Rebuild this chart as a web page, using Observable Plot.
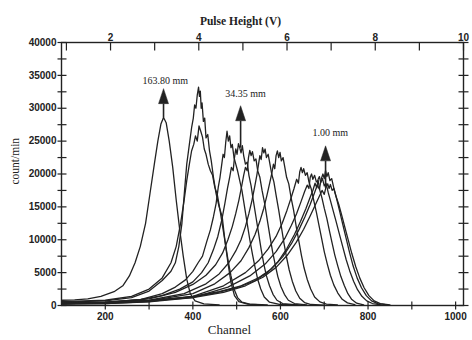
<!DOCTYPE html>
<html><head><meta charset="utf-8">
<script src="https://cdn.jsdelivr.net/npm/d3@7"></script>
<script src="https://cdn.jsdelivr.net/npm/@observablehq/plot@0.6"></script>
<style>
html,body{margin:0;padding:0;background:#fff;}
</style>
</head><body><div id="chart"></div>
<script>
// ---- Data (channel, count/min) ----
const seriesNames = ["163.80 mm","s2","s3","s4","34.35 mm","s6","s7","s8","s9","s10","s11","1.00 mm","s13"];

const s1 = [[102,800],[130,850],[160,1000],[190,1400],[220,2100],[240,3000],[255,4500],[268,6500],[280,9000],[292,12500],[302,17000],[312,21500],[320,25000],[327,27600],[333,28600],[339,27800],[346,25000],[354,21000],[362,16000],[370,11500],[378,7500],[386,4000],[394,1800],[405,700],[425,250],[460,100]];
const s2 = [[102,500],[200,700],[260,1200],[300,2200],[330,3800],[350,5200],[360,6500],[368,9000],[375,12500],[381,17500],[386,21500],[392,24500],[397,27000],[401,28500],[404,30500],[407,30000],[410,32000],[413,33200],[415,31800],[417,32600],[419,30000],[421,30800],[424,28000],[427,28500],[430,25500],[434,26000],[438,23500],[442,22000],[447,19500],[453,17000],[460,15000],[467,13500],[473,10000],[480,6500],[487,3500],[495,1500],[505,600],[525,200],[560,80]];
const s3 = [[102,600],[200,800],[260,1400],[300,2500],[330,4200],[350,6500],[362,9000],[372,12500],[380,16000],[386,19000],[392,21500],[397,23500],[402,24500],[406,25800],[410,25000],[414,27300],[418,26500],[422,25600],[426,23800],[430,23000],[435,21500],[440,20500],[445,19800],[450,18000],[456,16800],[462,14500],[468,12000],[474,9500],[480,7000],[487,4500],[494,2500],[502,1200],[512,500],[530,200],[570,80]];
const s4 = [[102,400],[200,500],[280,900],[330,1800],[360,2800],[383,3900],[400,5200],[412,6500],[422,7500],[432,9800],[440,11500],[447,13500],[453,15500],[458,18000],[462,19500],[466,21500],[469,23000],[472,22500],[475,24800],[478,26500],[481,25000],[484,25800],[487,24000],[490,24500],[494,22500],[498,21500],[502,20500],[507,19000],[512,17500],[518,15000],[524,12500],[530,10000],[536,7800],[542,5800],[548,4000],[555,2500],[563,1300],[575,500],[600,150],[650,50]];
const s5 = [[102,350],[200,500],[280,900],[330,1500],[370,2500],[400,3600],[420,5000],[435,6500],[447,8500],[457,10500],[466,13000],[473,15500],[479,17800],[484,19500],[488,21000],[492,20500],[495,22500],[498,23800],[501,23000],[504,24600],[507,24000],[510,23200],[513,24300],[516,22800],[520,21500],[524,21800],[528,19800],[533,18200],[538,16000],[544,13500],[550,11000],[556,8500],[562,6300],[568,4500],[575,3000],[583,1700],[592,800],[605,300],[640,100]];
const s6 = [[102,300],[200,450],[300,1000],[360,2000],[400,3200],[430,4600],[452,6200],[468,8000],[480,10000],[490,12000],[498,14000],[505,16000],[511,18000],[516,19800],[520,21000],[524,20500],[527,22500],[530,23600],[533,22800],[536,23400],[540,22000],[544,22300],[548,20500],[553,19500],[558,17500],[564,15500],[570,13000],[576,10500],[582,8200],[588,6200],[594,4400],[601,2900],[609,1700],[618,800],[632,300],[660,100]];
const s7 = [[102,300],[200,400],[300,800],[380,1800],[430,3300],[460,4800],[482,6500],[498,8300],[510,10000],[520,12000],[528,14000],[535,16000],[541,18000],[546,19800],[550,21500],[553,22800],[556,22200],[559,24000],[562,23200],[565,23800],[568,22500],[572,23000],[576,21500],[580,20000],[585,18800],[590,16800],[596,14500],[602,12000],[608,9500],[614,7300],[620,5400],[627,3700],[635,2200],[644,1100],[655,450],[670,150],[700,60]];
const s8 = [[102,250],[200,350],[300,700],[400,1800],[450,3300],[485,5000],[510,6800],[528,8800],[542,10800],[553,12800],[562,14800],[569,16700],[575,18500],[580,20000],[584,21500],[587,20800],[590,22800],[593,23500],[596,22500],[599,23300],[602,22000],[606,22500],[610,21000],[614,19500],[619,18500],[624,16500],[630,14500],[636,12000],[642,9800],[648,7600],[654,5700],[661,4000],[669,2500],[678,1300],[690,550],[705,200],[730,80]];
const s9 = [[102,250],[200,300],[300,600],[400,1400],[470,3000],[520,5000],[550,6800],[572,8600],[590,10500],[604,12500],[615,14500],[624,16300],[631,17800],[637,19200],[641,18600],[644,20300],[647,21000],[650,20200],[653,20800],[657,19800],[661,20200],[665,18800],[670,17800],[676,16000],[682,14200],[688,12200],[694,10200],[700,8200],[707,6300],[714,4600],[722,3100],[731,1900],[741,950],[753,400],[770,120]];
const s10 = [[102,250],[200,300],[300,550],[400,1200],[480,2800],[530,4500],[565,6300],[590,8200],[610,10200],[625,12200],[637,14000],[647,15800],[655,17300],[661,18300],[665,17800],[668,19500],[671,20000],[674,19200],[678,19800],[682,18800],[686,19000],[690,17500],[695,16300],[700,14800],[706,13200],[712,11300],[718,9500],[724,7700],[731,6000],[738,4400],[746,3000],[754,1800],[763,900],[774,350],[790,100]];
const s11 = [[102,300],[200,400],[300,700],[400,1300],[450,1900],[500,2700],[540,3700],[570,5000],[595,6700],[615,8700],[632,10800],[646,12800],[658,14700],[667,16300],[674,17500],[679,18600],[683,17900],[686,19200],[689,19600],[692,18700],[696,19300],[700,18200],[704,18600],[709,17200],[714,16000],[720,14500],[727,12800],[734,11000],[742,9000],[750,7000],[758,5300],[767,3700],[776,2400],[786,1400],[797,700],[810,300],[830,100]];
const s12 = [[102,350],[200,450],[300,750],[400,1400],[460,2100],[510,3000],[550,4200],[580,5600],[605,7400],[625,9400],[642,11500],[656,13500],[668,15400],[677,17000],[684,18300],[689,17700],[693,19200],[697,20000],[700,19300],[703,20500],[706,19600],[709,20200],[713,19000],[717,19300],[722,17800],[728,16300],[735,14400],[742,12400],[750,10200],[758,8000],[766,6000],[775,4200],[785,2700],[796,1500],[808,700],[822,300],[845,100]];
const s13 = [[102,300],[200,400],[300,700],[400,1200],[470,2000],[520,3000],[560,4300],[590,5800],[615,7600],[636,9600],[653,11600],[667,13500],[679,15200],[688,16500],[695,17500],[700,16900],[704,18000],[708,18500],[711,17800],[714,18400],[718,17500],[722,17800],[727,16600],[733,15400],[740,13700],[747,11900],[755,9900],[763,7900],[772,5900],[781,4200],[791,2700],[802,1500],[814,700],[828,300],[850,100]];
const seriesData = [s1,s2,s3,s4,s5,s6,s7,s8,s9,s10,s11,s12,s13];

// Annotations
const annoLabels = ["163.80 mm","34.35 mm","1.00 mm"];
const annoChannel = [333, 509, 703];
const annoShaftBase = [28600, 24000, 17900];
const annoHeadBase = [30700, 28100, 22000];
const annoTextX = [337, 520, 714];
const annoTextY = [34200, 32200, 26300];

// Axes
const xLabelTicks = [200, 400, 600, 800, 1000];
const xMinorTicks = [200, 300, 400, 500, 600, 700, 800, 900, 1000];
const yLabelTicks = [0, 5000, 10000, 15000, 20000, 25000, 30000, 35000, 40000];
const yMinorTicks = d3.range(0, 40001, 2500);
const voltTicks = [1, 2, 3, 4, 5, 6, 7, 8, 9, 10];
const voltLabels = [2, 4, 6, 8, 10];
// calibration between the top (Pulse Height) and bottom (Channel) axes
const voltCal = [2, 10];
const chanCal = [212, 1018];
const v2c = d3.scaleLinear().domain(voltCal).range(chanCal);

// ---- Build ----
const rows = [];
seriesData.forEach((pts, i) => pts.forEach(([ch, c]) => rows.push({series: seriesNames[i], ch, count: c})));
const annos = annoLabels.map((t, i) => ({t, ch: annoChannel[i], base: annoShaftBase[i], head: annoHeadBase[i], tx: annoTextX[i], ty: annoTextY[i]}));

const ink = "#222222";
const hTickL = {draw(ctx){ ctx.moveTo(-4, 0); ctx.lineTo(5, 0); }};
const hTickR = {draw(ctx){ ctx.moveTo(-5, 0); ctx.lineTo(5, 0); }};
const vTickTop = {draw(ctx){ ctx.moveTo(0, 0); ctx.lineTo(0, 8); }};
const vTickBottom = {draw(ctx){ ctx.moveTo(0, -4); ctx.lineTo(0, 4); }};
const headSym = {draw(ctx){ ctx.moveTo(-5, 0); ctx.lineTo(0, -15); ctx.lineTo(5, 0); ctx.closePath(); }};

const chart = Plot.plot({
  width: 472,
  height: 340,
  marginLeft: 61,
  marginRight: 9,
  marginTop: 42,
  marginBottom: 35,
  style: {fontFamily: "'Liberation Sans', Arial, sans-serif", fontSize: "10px", fontWeight: "bold", background: "#ffffff", color: ink},
  x: {domain: [100, 1018], ticks: xLabelTicks, tickSize: 0, tickPadding: 7, tickFormat: d3.format("d"), label: null},
  y: {domain: [0, 40000], ticks: yLabelTicks, tickSize: 0, tickPadding: 5, tickFormat: d3.format("d"), label: null},
  marks: [
    Plot.line(rows, {x: "ch", y: "count", z: "series", stroke: ink, strokeWidth: 1.3, strokeLinejoin: "round"}),
    Plot.frame({stroke: ink, strokeWidth: 1.4}),
    Plot.dot(yMinorTicks, {y: d => d, frameAnchor: "left", symbol: hTickL, fill: "none", stroke: ink, strokeWidth: 1.2}),
    Plot.dot(yMinorTicks, {y: d => d, frameAnchor: "right", symbol: hTickR, fill: "none", stroke: ink, strokeWidth: 1.2}),
    Plot.dot(voltTicks.map(v2c), {x: d => d, frameAnchor: "top", symbol: vTickTop, fill: "none", stroke: ink, strokeWidth: 1.2}),
    Plot.dot(xMinorTicks, {x: d => d, frameAnchor: "bottom", symbol: vTickBottom, fill: "none", stroke: ink, strokeWidth: 1.2}),
    Plot.text(voltLabels, {x: d => v2c(d), frameAnchor: "top", dy: -9, text: d => String(d), fontWeight: "bold", fontSize: 10}),
    Plot.text(["Pulse Height (V)"], {frameAnchor: "top", dx: -22, dy: -26, text: d => d, fontFamily: "'Liberation Serif', serif", fontWeight: "bold", fontSize: 11.5}),
    Plot.text(["Channel"], {frameAnchor: "bottom", dx: -33, dy: 28, text: d => d, fontFamily: "'Liberation Serif', serif", fontWeight: "normal", fontSize: 13}),
    Plot.text(["count/min"], {frameAnchor: "left", y: 18400, dx: -46, rotate: -90, text: d => d, fontFamily: "'Liberation Serif', serif", fontWeight: "normal", fontSize: 11.5}),
    Plot.link(annos, {x1: "ch", x2: "ch", y1: "base", y2: "head", stroke: ink, strokeWidth: 1.6}),
    Plot.dot(annos, {x: "ch", y: "head", symbol: headSym, fill: ink, stroke: ink, strokeWidth: 0.5}),
    Plot.text(annos, {x: "tx", y: "ty", text: "t", fontFamily: "'Liberation Serif', serif", fontWeight: "normal", fontSize: 10})
  ]
});
document.getElementById("chart").appendChild(chart);
</script>
</body></html>
